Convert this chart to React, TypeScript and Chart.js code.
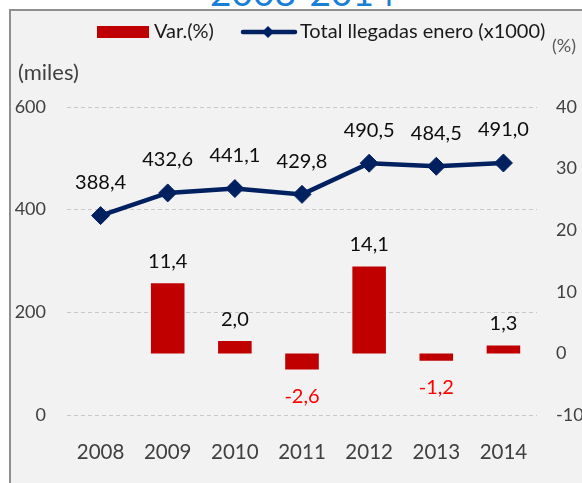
import React, { useEffect, useRef } from "react";
import { Chart, registerables } from "chart.js";

Chart.register(...registerables);

const FONT = "Lato, 'Open Sans', 'DejaVu Sans', sans-serif";
const NAVY = "#002060";
const RED = "#c00000";

const years = ["2008", "2009", "2010", "2011", "2012", "2013", "2014"];
const totalArrivals = [388.4, 432.6, 441.1, 429.8, 490.5, 484.5, 491.0];
const variation: (number | null)[] = [null, 11.4, 2.0, -2.6, 14.1, -1.2, 1.3];
const leftRange = { min: 0, max: 600, step: 200 };
const rightRange = { min: -10, max: 40, step: 10 };
const barLabel = "Var.(%)";
const lineLabel = "Total llegadas enero (x1000)";
const leftUnit = "(miles)";
const rightUnit = "(%)";
const titleText = "2008-2014";

const fmt = (v: number) => v.toFixed(1).replace(".", ",");

const valueLabels = {
  id: "valueLabels",
  afterDatasetsDraw(chart: any) {
    const ctx = chart.ctx;
    ctx.save();
    ctx.font = `20px ${FONT}`;
    ctx.textAlign = "center";
    ctx.textBaseline = "middle";
    chart.data.datasets.forEach((ds: any, i: number) => {
      const meta = chart.getDatasetMeta(i);
      meta.data.forEach((el: any, j: number) => {
        const v = ds.data[j];
        if (v == null) return;
        const txt = fmt(v);
        if (ds.type === "line") {
          ctx.fillStyle = "#0d0d0d";
          ctx.fillText(txt, el.x, el.y - 33);
        } else if (v >= 0) {
          ctx.fillStyle = "#0d0d0d";
          ctx.fillText(txt, el.x, el.y - 22);
        } else {
          ctx.fillStyle = "#ff0000";
          ctx.fillText(txt, el.x, el.y + 27);
        }
      });
    });
    ctx.restore();
  },
};

const customLegend = {
  id: "customLegend",
  afterDraw(chart: any) {
    const ctx = chart.ctx;
    ctx.save();
    const cy = 32;
    ctx.fillStyle = RED;
    ctx.fillRect(97, 26, 52, 12);
    ctx.font = `20px ${FONT}`;
    ctx.textAlign = "left";
    ctx.textBaseline = "middle";
    ctx.fillStyle = "#1a1a1a";
    ctx.fillText(barLabel, 154, cy);
    ctx.strokeStyle = NAVY;
    ctx.lineWidth = 4.5;
    ctx.lineCap = "round";
    ctx.beginPath();
    ctx.moveTo(243, cy);
    ctx.lineTo(295, cy);
    ctx.stroke();
    ctx.fillStyle = NAVY;
    ctx.beginPath();
    ctx.moveTo(268, cy - 6);
    ctx.lineTo(274, cy);
    ctx.lineTo(268, cy + 6);
    ctx.lineTo(262, cy);
    ctx.closePath();
    ctx.fill();
    ctx.fillStyle = "#1a1a1a";
    ctx.fillText(lineLabel, 300, cy);
    ctx.fillStyle = "#404040";
    ctx.font = `22px ${FONT}`;
    ctx.fillText(leftUnit, 18, 73);
    ctx.fillStyle = "#595959";
    ctx.font = `18px ${FONT}`;
    ctx.fillText(rightUnit, 552, 46);
    ctx.restore();
  },
};

export default function App() {
  const ref = useRef<HTMLCanvasElement | null>(null);
  useEffect(() => {
    if (!ref.current) return;
    const tickFont = { family: FONT, size: 18 };
    const chart = new Chart(ref.current, {
      type: "bar",
      data: {
        labels: years,
        datasets: [
          {
            type: "line",
            label: lineLabel,
            data: totalArrivals,
            yAxisID: "y",
            borderColor: NAVY,
            backgroundColor: NAVY,
            borderWidth: 4.5,
            pointStyle: "rectRot",
            pointRadius: 9,
            pointBorderWidth: 1,
            pointBackgroundColor: NAVY,
            pointBorderColor: NAVY,
            tension: 0,
            order: 0,
          } as any,
          {
            type: "bar",
            label: barLabel,
            data: variation,
            yAxisID: "y1",
            backgroundColor: RED,
            barPercentage: 0.5,
            categoryPercentage: 1,
            order: 1,
          } as any,
        ],
      },
      options: {
        responsive: false,
        animation: false,
        layout: { padding: { top: 107, left: 0, right: 0, bottom: 0 } },
        plugins: {
          legend: { display: false },
          tooltip: { enabled: false },
          title: { display: false },
        },
        scales: {
          x: {
            grid: { display: false },
            border: { display: false },
            ticks: { font: { family: FONT, size: 20.5 }, color: "#404040", padding: 17 },
            afterFit: (s: any) => {
              s.height = 68;
            },
          },
          y: {
            position: "left",
            min: leftRange.min,
            max: leftRange.max,
            ticks: { stepSize: leftRange.step, font: tickFont, color: "#404040", padding: 21 },
            grid: { color: "#c8c8c8", lineWidth: 1, drawTicks: false },
            border: { display: false, dash: [4, 3] },
            afterFit: (s: any) => {
              s.width = 67;
            },
          },
          y1: {
            position: "right",
            min: rightRange.min,
            max: rightRange.max,
            ticks: { stepSize: rightRange.step, font: tickFont, color: "#404040", padding: 19 },
            grid: { display: false, drawTicks: false },
            border: { display: false },
            afterFit: (s: any) => {
              s.width = 45;
            },
          },
        } as any,
      },
      plugins: [valueLabels, customLegend],
    });
    return () => chart.destroy();
  }, []);

  return (
    <div
      style={{
        position: "absolute",
        left: 0,
        top: 0,
        width: 582,
        height: 483,
        overflow: "hidden",
        background: "#ffffff",
        fontFamily: FONT,
      }}
    >
      <div
        style={{
          position: "absolute",
          left: 210,
          top: -27,
          fontSize: 37,
          lineHeight: "37px",
          color: "#1a7fd4",
          whiteSpace: "nowrap",
        }}
      >
        {titleText}
      </div>
      <div
        style={{
          position: "absolute",
          left: 9,
          top: 9,
          right: 0,
          bottom: 0,
          background: "#f2f2f2",
          borderLeft: "2px solid #8f8f8f",
          borderTop: "2px solid #8f8f8f",
        }}
      />
      <canvas
        ref={ref}
        width={582}
        height={483}
        style={{ position: "absolute", left: 0, top: 0, width: 582, height: 483 }}
      />
    </div>
  );
}
